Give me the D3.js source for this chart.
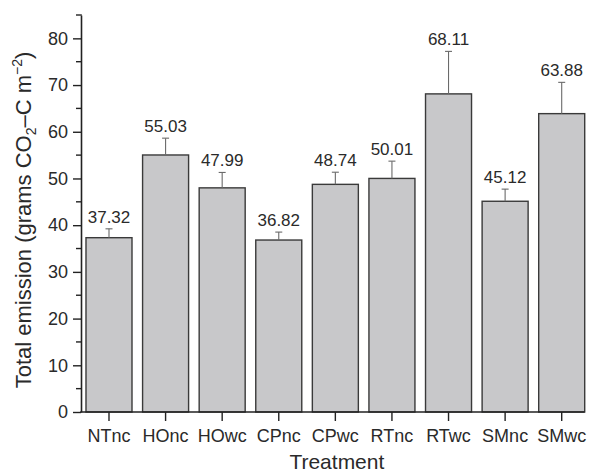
<!DOCTYPE html>
<html><head><meta charset="utf-8">
<script src="https://cdn.jsdelivr.net/npm/d3@7"></script>
<style>body{margin:0;background:#fff}svg{display:block}text{font-family:"Liberation Sans",Arial,Helvetica,sans-serif;fill:#2a2a2a}</style>
</head><body><svg id="c" width="608" height="475"></svg>
<script>
const categories = ["NTnc","HOnc","HOwc","CPnc","CPwc","RTnc","RTwc","SMnc","SMwc"];
const values = [37.32,55.03,47.99,36.82,48.74,50.01,68.11,45.12,63.88];
const errors = [1.9,3.6,3.3,1.7,2.6,3.7,9.1,2.6,6.7];
const yTicks = [0,10,20,30,40,50,60,70,80];
const yMinorTicks = [5,15,25,35,45,55,65,75];

const svg = d3.select("#c");
const x = d3.scaleBand().domain(categories).range([80.7,590]).paddingInner(0.187).paddingOuter(0.0935);
const y = d3.scaleLinear().domain([0,85]).range([412,15]);
const x0 = 81;

// bars
svg.append("g").selectAll("rect").data(categories).join("rect")
  .attr("x", d=>x(d)).attr("width", x.bandwidth())
  .attr("y", (d,i)=>y(values[i])).attr("height",(d,i)=>y(0)-y(values[i]))
  .attr("fill","#c8c8ca").attr("stroke","#3a3a3a").attr("stroke-width",1.4);

// error bars
const eg = svg.append("g").attr("stroke","#6a6a6a").attr("stroke-width",1.1);
categories.forEach((c,i)=>{
  const cx = x(c)+x.bandwidth()/2;
  eg.append("line").attr("x1",cx).attr("x2",cx).attr("y1",y(values[i])).attr("y2",y(values[i]+errors[i]));
  eg.append("line").attr("x1",cx-3.5).attr("x2",cx+3.5).attr("y1",y(values[i]+errors[i])).attr("y2",y(values[i]+errors[i]));
});

// value labels
svg.append("g").selectAll("text").data(categories).join("text")
  .attr("x", d=>x(d)+x.bandwidth()/2)
  .attr("y", (d,i)=>y(values[i]+errors[i])-6)
  .attr("text-anchor","middle").attr("font-size",17)
  .text((d,i)=>values[i].toFixed(2));

// y axis
const ya = svg.append("g").attr("transform",`translate(${x0},0)`)
  .call(d3.axisLeft(y).tickValues(yTicks).tickSize(8).tickPadding(5).tickSizeOuter(0));
ya.select(".domain").attr("stroke","#222").attr("stroke-width",1.6);
ya.selectAll(".tick line").attr("stroke","#222").attr("stroke-width",1.4);
ya.selectAll(".tick text").attr("font-size",18).attr("fill","#2a2a2a").attr("font-family","Liberation Sans, Arial, sans-serif");
svg.append("g").selectAll("line").data(yMinorTicks).join("line")
  .attr("x1",x0-5).attr("x2",x0).attr("y1",d=>y(d)).attr("y2",d=>y(d))
  .attr("stroke","#222").attr("stroke-width",1.4);
// top cap of y axis
svg.append("line").attr("x1",x0-5).attr("x2",x0+0.8).attr("y1",y(85)).attr("y2",y(85)).attr("stroke","#222").attr("stroke-width",1.4);

// x axis
const lastRight = x(categories[categories.length-1])+x.bandwidth();
svg.append("line").attr("x1",x0-0.8).attr("x2",lastRight).attr("y1",y(0)).attr("y2",y(0)).attr("stroke","#222").attr("stroke-width",1.6);
const xa = svg.append("g").attr("transform",`translate(0,${y(0)})`)
  .call(d3.axisBottom(x).tickSize(9).tickPadding(8).tickSizeOuter(0));
xa.select(".domain").remove();
xa.selectAll(".tick line").attr("stroke","#222").attr("stroke-width",1.4);
xa.selectAll(".tick text").attr("font-size",18).attr("fill","#2a2a2a").attr("font-family","Liberation Sans, Arial, sans-serif");

// axis titles
svg.append("text").attr("x",(x0+lastRight)/2+4).attr("y",469).attr("text-anchor","middle").attr("font-size",21).text("Treatment");
const yt = svg.append("text").attr("transform","translate(31,220) rotate(-90)").attr("text-anchor","middle").attr("font-size",22);
yt.append("tspan").text("Total emission (grams CO");
yt.append("tspan").attr("font-size",14).attr("dy",5).text("2");
yt.append("tspan").attr("dy",-5).text("\u2013C m");
yt.append("tspan").attr("font-size",14).attr("dy",-9).text("\u22122");
yt.append("tspan").attr("dy",9).text(")");
</script></body></html>
